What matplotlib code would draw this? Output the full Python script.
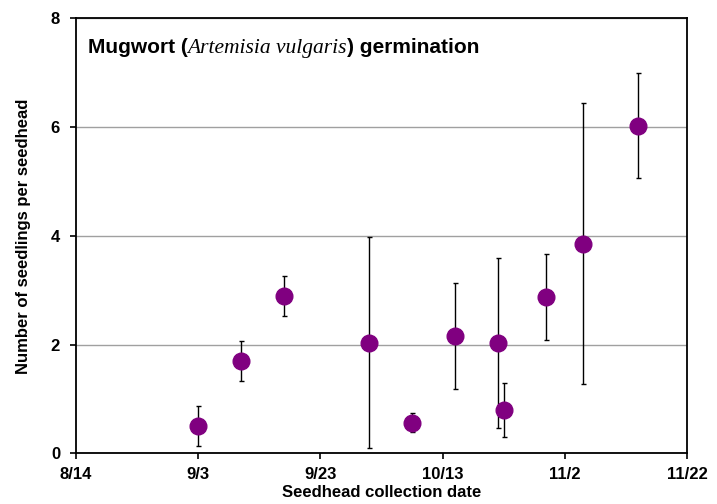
import datetime as dt
import matplotlib
matplotlib.use('Agg')
import matplotlib.pyplot as plt
import matplotlib.dates as mdates
from matplotlib.offsetbox import TextArea, HPacker, AnchoredOffsetbox

# ------------------------------------------------------------
# Data
# ------------------------------------------------------------

dates = ['2010-09-03', '2010-09-10', '2010-09-17', '2010-10-01', '2010-10-08',
         '2010-10-15', '2010-10-22', '2010-10-23', '2010-10-30', '2010-11-05',
         '2010-11-14']
seedlings = [0.51, 1.70, 2.89, 2.04, 0.57, 2.16, 2.03, 0.80, 2.87, 3.86, 6.03]
errors = [0.37, 0.37, 0.37, 1.94, 0.18, 0.97, 1.57, 0.50, 0.79, 2.58, 0.96]
tick_dates = ['2010-08-14', '2010-09-03', '2010-09-23', '2010-10-13',
              '2010-11-02', '2010-11-22']

x = [dt.datetime.strptime(d, '%Y-%m-%d') for d in dates]
ticks = [dt.datetime.strptime(d, '%Y-%m-%d') for d in tick_dates]
tick_labels = [f'{d.month}/{d.day}' for d in ticks]

# ------------------------------------------------------------
# Plotting
# ------------------------------------------------------------

plt.rcParams['font.family'] = 'Liberation Sans'

fig = plt.figure(figsize=(7.17, 5.04), dpi=100)
ax = fig.add_axes([0.106, 0.1002, 0.8522, 0.8631])

ax.errorbar(x, seedlings, yerr=errors, fmt='none', ecolor='black',
            elinewidth=1.0, capsize=1.8, capthick=1.0, zorder=2)
ax.plot(x, seedlings, 'o', color='#800080', markersize=12, zorder=3)

ax.set_xlim(ticks[0], ticks[-1])
ax.set_ylim(0, 8)
ax.set_xticks([mdates.date2num(t) for t in ticks])
ax.set_xticklabels(tick_labels)
ax.set_yticks([0, 2, 4, 6, 8])
ax.yaxis.grid(True, color='#a0a0a0', linewidth=1.0)
ax.set_axisbelow(True)

for s in ax.spines.values():
    s.set_linewidth(1.3)
ax.tick_params(direction='out', length=4.5, width=1.2, labelsize=12)
ax.tick_params(axis='x', pad=5.5)
ax.tick_params(axis='y', pad=7)
for lbl in ax.get_xticklabels() + ax.get_yticklabels():
    lbl.set_fontweight('bold')

ax.set_xlabel('Seedhead collection date', fontsize=12, fontweight='bold', labelpad=2)
ax.set_ylabel('Number of seedlings per seedhead', fontsize=12, fontweight='bold', labelpad=14)

# Title: bold sans with the species name in italic serif
t1 = TextArea('Mugwort (', textprops=dict(fontsize=15, fontweight='bold', family='Liberation Sans'))
t2 = TextArea('Artemisia vulgaris', textprops=dict(fontsize=15.5, style='italic', family='Liberation Serif'))
t3 = TextArea(') germination', textprops=dict(fontsize=15, fontweight='bold', family='Liberation Sans'))
title = HPacker(children=[t1, t2, t3], align='baseline', pad=0, sep=0)
ab = AnchoredOffsetbox(loc='upper left', child=title, frameon=False,
                       bbox_to_anchor=(0.019, 0.955), bbox_transform=ax.transAxes,
                       pad=0, borderpad=0)
ax.add_artist(ab)

plt.savefig('out.png', dpi=100)
plt.close()
